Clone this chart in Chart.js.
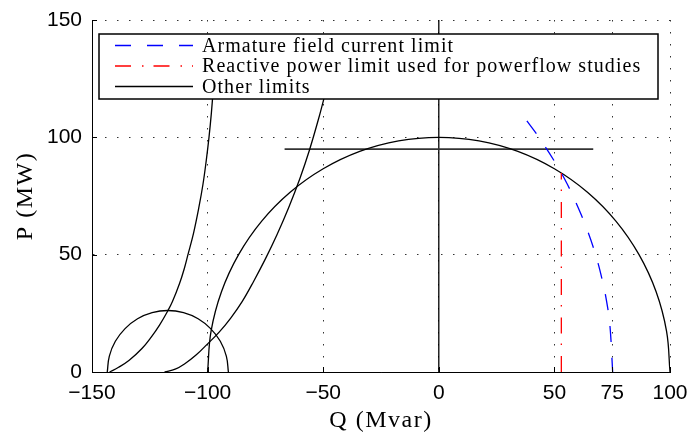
<!DOCTYPE html>
<html>
<head>
<meta charset="utf-8">
<title>Generator capability</title>
<script src="https://cdn.jsdelivr.net/npm/chart.js@4.4.1/dist/chart.umd.min.js"></script>
<style>
  html, body { margin: 0; padding: 0; background: #fff; }
  #wrap { width: 690px; height: 438px; }
</style>
</head>
<body>
<div id="wrap"><canvas id="myChart" width="690" height="438"></canvas></div>
<script>
"use strict";

/* axis ticks */
const qTicks = [-150, -100, -50, 0, 50, 75, 100];
const pTicks = [0, 50, 100, 150];

/* armature field current limit (blue dashed) */
const fieldQ = [38.1, 43.3, 49.9, 55.6, 60.3, 64.4, 67.8, 70.5, 72.6, 74.0, 75.2];
const fieldP = [107, 100, 90, 80, 70, 60, 50, 40, 30, 20, 0];

/* reactive power limit for powerflow studies (red dash-dot) */
const qLimQ = [53, 53];
const qLimP = [0, 84.8];

/* stator current limit, radius 100 */
const statorQ = [100, 98.5, 94.0, 86.6, 76.6, 64.3, 50.0, 34.2, 17.4, 0,
                 -17.4, -34.2, -50.0, -64.3, -76.6, -86.6, -94.0, -98.5, -100];
const statorP = [0, 17.4, 34.2, 50.0, 64.3, 76.6, 86.6, 94.0, 98.5, 100,
                 98.5, 94.0, 86.6, 76.6, 64.3, 50.0, 34.2, 17.4, 0];

/* small circle on the underexcited side */
const smallQ = [-91.0, -91.9, -94.5, -98.7, -104.1, -110.4, -117.2,
                -124.0, -130.3, -135.7, -139.9, -142.5, -143.4];
const smallP = [0, 6.8, 13.1, 18.5, 22.7, 25.3, 26.2,
                25.3, 22.7, 18.5, 13.1, 6.8, 0];

/* steep underexcitation limit */
const limAQ = [-142.4, -138.5, -133.9, -128.4, -124.3, -120.8, -117.3, -115.2, -112.1, -110.1,
               -108.5, -106.1, -103.8, -102.0, -100.6, -99.4, -98.4, -97.6, -96.6];
const limAP = [0, 2, 5, 10, 15, 20, 25.9, 30, 37.8, 44,
               50, 59.1, 70, 80, 90, 100, 110, 120, 135];

/* stability limit */
const limBQ = [-118.6, -114, -110, -105, -100, -95, -90, -85, -80, -75,
               -70, -65, -60, -56, -52, -49, -46];
const limBP = [0, 1.2, 3.4, 7.2, 12.0, 17.0, 23.0, 30.1, 38.8, 48.2,
               58.5, 69.9, 82.7, 94.4, 107.9, 119.2, 131.3];

/* turbine limit */
const turbQ = [-66.7, 66.8];
const turbP = [95, 95];

/* Q = 0 */
const zeroQ = [0, 0];
const zeroP = [0, 150];

const legendLabels = [
    "Armature field current limit",
    "Reactive power limit used for powerflow studies",
    "Other limits"
];

function pts(qs, ps) {
    return qs.map((q, i) => ({ x: q, y: ps[i] }));
}

function curve(qs, ps, color, width, dash, tension) {
    return {
        data: pts(qs, ps),
        showLine: true,
        borderColor: color,
        borderWidth: width,
        borderDash: dash,
        pointRadius: 0,
        tension: tension,
        fill: false
    };
}

const serif = "'Liberation Serif', 'Times New Roman', serif";
const sans = "'Liberation Sans', Arial, sans-serif";

// legend drawn on top of the curves, MATLAB style
const boxLegend = {
    id: "boxLegend",
    afterDatasetsDraw(chart) {
        const ctx = chart.ctx;
        const a = chart.chartArea;
        const x0 = a.left + 7, y0 = a.top + 14;
        const x1 = a.right - 12, y1 = y0 + 65;
        const styles = [
            { color: "#0000ff", dash: [16, 16] },
            { color: "#ff0000", dash: [16, 11, 1.5, 10] },
            { color: "#000000", dash: [] }
        ];
        ctx.save();
        ctx.fillStyle = "#fff";
        ctx.fillRect(x0, y0, x1 - x0, y1 - y0);
        ctx.lineWidth = 1.5;
        ctx.strokeStyle = "#000";
        ctx.strokeRect(x0, y0, x1 - x0, y1 - y0);
        ctx.font = "20px " + serif;
        ctx.letterSpacing = "1.05px";
        ctx.textBaseline = "middle";
        ctx.fillStyle = "#000";
        legendLabels.forEach((txt, i) => {
            const y = y0 + 11.5 + i * 20.5;
            ctx.beginPath();
            ctx.setLineDash(styles[i].dash);
            ctx.lineWidth = 1.3;
            ctx.strokeStyle = styles[i].color;
            ctx.moveTo(x0 + 16, y);
            ctx.lineTo(x0 + 94, y);
            ctx.stroke();
            ctx.setLineDash([]);
            ctx.fillText(txt, x0 + 103, y + 1);
        });
        ctx.restore();
    }
};

// small inward tick marks and wider axis titles
const axisExtras = {
    id: "axisExtras",
    beforeDraw(chart) {
        Object.values(chart.scales).forEach(s => {
            if (s._spaced) return;
            const orig = s.drawTitle;
            s.drawTitle = function () {
                this.ctx.save();
                this.ctx.letterSpacing = "1.5px";
                orig.apply(this, arguments);
                this.ctx.restore();
            };
            s._spaced = true;
        });
    },
    afterDraw(chart) {
        const ctx = chart.ctx;
        const a = chart.chartArea;
        const xs = chart.scales.x, ys = chart.scales.y;
        ctx.save();
        ctx.strokeStyle = "#000";
        ctx.lineWidth = 1;
        ctx.beginPath();
        qTicks.forEach(v => {
            const px = Math.round(xs.getPixelForValue(v)) + 0.5;
            ctx.moveTo(px, a.bottom);
            ctx.lineTo(px, a.bottom - 5);
        });
        pTicks.forEach(v => {
            const py = Math.round(ys.getPixelForValue(v)) + 0.5;
            ctx.moveTo(a.left, py);
            ctx.lineTo(a.left + 5, py);
        });
        ctx.stroke();
        ctx.restore();
    }
};

function fmt(v) {
    return v < 0 ? "\u2212" + Math.abs(v) : String(v);
}

const chartDiv = document.getElementById("myChart");

new Chart(chartDiv, {
    type: "scatter",
    data: {
        datasets: [
            curve(fieldQ, fieldP, "#0000ff", 1.3, [16, 16], 0.4),
            curve(qLimQ, qLimP, "#ff0000", 1.3, [16, 11, 1.5, 10], 0),
            curve(statorQ, statorP, "#000", 1.3, [], 0.4),
            curve(smallQ, smallP, "#000", 1.3, [], 0.4),
            curve(limAQ, limAP, "#000", 1.3, [], 0.4),
            curve(limBQ, limBP, "#000", 1.3, [], 0.4),
            curve(turbQ, turbP, "#333", 1.8, [], 0),
            curve(zeroQ, zeroP, "#000", 1.3, [], 0)
        ]
    },
    options: {
        responsive: false,
        animation: false,
        layout: { padding: { left: 0, right: 20, top: 20, bottom: 0 } },
        plugins: {
            legend: { display: false },
            tooltip: { enabled: false }
        },
        scales: {
            x: {
                type: "linear",
                min: -150,
                max: 100,
                afterBuildTicks: s => { s.ticks = qTicks.map(v => ({ value: v })); },
                afterFit: s => { s.height = 66; s.paddingLeft = 0; s.paddingRight = 0; },
                grid: { color: "#333", lineWidth: 1, drawTicks: false },
                border: { display: true, color: "#000", width: 1, dash: [1.5, 10.5] },
                ticks: {
                    color: "#000",
                    font: { family: sans, size: 21 },
                    padding: 9,
                    maxRotation: 0,
                    autoSkip: false,
                    callback: v => fmt(v)
                },
                title: {
                    display: true,
                    text: "Q (Mvar)",
                    color: "#000",
                    font: { family: serif, size: 24 },
                    padding: { top: 0, bottom: 3 }
                }
            },
            y: {
                type: "linear",
                min: 0,
                max: 150,
                afterBuildTicks: s => { s.ticks = pTicks.map(v => ({ value: v })); },
                afterFit: s => { s.width = 92; s.paddingTop = 0; s.paddingBottom = 0; },
                grid: { color: "#333", lineWidth: 1, drawTicks: false },
                border: { display: true, color: "#000", width: 1, dash: [1.5, 10.5] },
                ticks: {
                    color: "#000",
                    font: { family: sans, size: 21 },
                    padding: 10,
                    callback: v => fmt(v)
                },
                title: {
                    display: true,
                    text: "P (MW)",
                    color: "#000",
                    font: { family: serif, size: 24 },
                    padding: { top: 11, bottom: 0 }
                }
            }
        }
    },
    plugins: [boxLegend, axisExtras]
});
</script>
</body>
</html>
